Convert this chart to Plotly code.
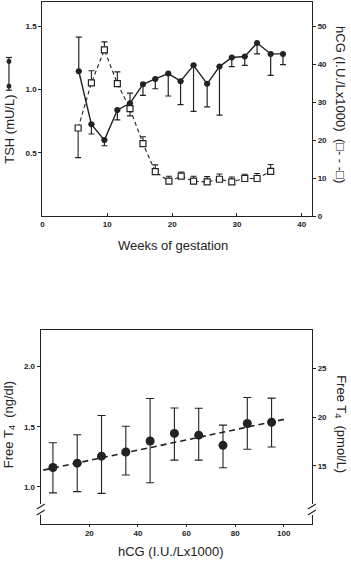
import plotly.graph_objects as go

W, H = 351, 567

# ---------------- Top panel data ----------------
tsh_weeks = [5.6, 7.55, 9.55, 11.55, 13.5, 15.5, 17.4, 19.4, 21.3, 23.3, 25.4, 27.3, 29.2, 31.2, 33.1, 35.2, 37.1]
tsh = [1.143, 0.724, 0.60, 0.838, 0.89, 1.04, 1.083, 1.125, 1.065, 1.19, 1.044, 1.18, 1.252, 1.26, 1.367, 1.28, 1.28]
tsh_err_up = [0.27, 0, 0, 0, 0.08, 0, 0, 0, 0, 0, 0, 0, 0, 0, 0, 0, 0]
tsh_err_down = [0, 0.076, 0.045, 0.078, 0, 0.087, 0.078, 0.177, 0.185, 0.364, 0.182, 0.383, 0.072, 0.07, 0.087, 0.17, 0.085]

hcg_weeks = [5.5, 7.55, 9.55, 11.55, 13.5, 15.5, 17.4, 19.5, 21.4, 23.3, 25.4, 27.3, 29.2, 31.2, 33.1, 35.2]
hcg = [23.2, 35.1, 43.8, 34.9, 28.3, 19.1, 11.7, 9.2, 10.5, 9.2, 9.0, 9.7, 9.0, 9.9, 9.9, 11.8]
hcg_err_up = [0, 3.2, 2.1, 3.1, 0, 1.8, 1.8, 1.3, 1.1, 1.3, 1.4, 1.4, 1.3, 1.1, 1.3, 1.8]
hcg_err_down = [7.8, 0, 0, 0, 1.9, 0, 0, 0, 0, 0, 0, 0, 0, 0, 0, 0]

week_ticks = [0, 10, 20, 30, 40]
tsh_ticks = [0.5, 1.0, 1.5]
hcg_ticks = [0, 10, 20, 30, 40, 50]

# ---------------- Bottom panel data ----------------
ft4_hcg = [5, 15, 25, 35, 45, 55, 65, 75, 85, 95]
ft4 = [1.162, 1.198, 1.256, 1.291, 1.382, 1.445, 1.431, 1.346, 1.528, 1.538]
ft4_hi = [1.368, 1.434, 1.594, 1.505, 1.736, 1.656, 1.654, 1.514, 1.744, 1.739]
ft4_lo = [0.951, 0.961, 0.947, 1.099, 1.035, 1.223, 1.223, 1.16, 1.313, 1.332]
trend_x = [1, 101]
trend_y = [1.14, 1.566]

hcg_x_ticks = [20, 40, 60, 80, 100]
ft4_ticks = [1.0, 1.5, 2.0]
pmol_ticks = [15, 20, 25]

INK = "#222222"
FONT = "Liberation Sans, Arial, sans-serif"


def px(x):
    return x / W


def py(y):
    return 1 - y / H


fig = go.Figure()

fig.add_trace(go.Scatter(
    x=tsh_weeks, y=tsh, mode="lines+markers", xaxis="x", yaxis="y",
    line=dict(color=INK, width=1.4),
    marker=dict(symbol="circle", size=6, color=INK),
    error_y=dict(type="data", symmetric=False, array=tsh_err_up, arrayminus=tsh_err_down,
                 color=INK, thickness=1.2, width=3),
    showlegend=False, hoverinfo="skip"))

fig.add_trace(go.Scatter(
    x=hcg_weeks, y=hcg, mode="lines+markers", xaxis="x", yaxis="y2",
    line=dict(color=INK, width=1.1, dash="4px,3px"),
    marker=dict(symbol="square", size=6, color="white", line=dict(width=1.2, color=INK)),
    error_y=dict(type="data", symmetric=False, array=hcg_err_up, arrayminus=hcg_err_down,
                 color=INK, thickness=1.1, width=3),
    showlegend=False, hoverinfo="skip"))

fig.add_trace(go.Scatter(
    x=trend_x, y=trend_y, mode="lines", xaxis="x2", yaxis="y3",
    line=dict(color=INK, width=1.6, dash="6px,4px"),
    showlegend=False, hoverinfo="skip"))

fig.add_trace(go.Scatter(
    x=ft4_hcg, y=ft4, mode="markers", xaxis="x2", yaxis="y3",
    marker=dict(symbol="circle", size=9, color=INK),
    error_y=dict(type="data", symmetric=False,
                 array=[h - v for h, v in zip(ft4_hi, ft4)],
                 arrayminus=[v - l for v, l in zip(ft4, ft4_lo)],
                 color=INK, thickness=1.1, width=4),
    showlegend=False, hoverinfo="skip"))

# empty trace registering the right-hand pmol/L axis
fig.add_trace(go.Scatter(x=[None], y=[None], xaxis="x2", yaxis="y4", showlegend=False, hoverinfo="skip"))

tickfont = dict(family=FONT, size=8, color=INK, weight="bold")
axis_common = dict(showline=True, linecolor=INK, linewidth=1.3, showgrid=False, zeroline=False,
                   tickcolor=INK, tickfont=tickfont, fixedrange=True)

top_x = [px(40.7), px(311.7)]
top_y = [py(218), py(2)]
bot_x = [px(39), px(311.7)]
bot_y = [py(528.3), py(332.7)]

fig.update_layout(
    width=W, height=H,
    margin=dict(l=0, r=0, t=0, b=0),
    paper_bgcolor="white", plot_bgcolor="white",
    font=dict(family=FONT, color=INK),
    xaxis=dict(domain=top_x, anchor="y", range=[0, 41.56], tickvals=week_ticks,
               ticks="inside", ticklen=3, mirror=True, **axis_common),
    yaxis=dict(domain=top_y, anchor="x", range=[0, 1.69], tickvals=tsh_ticks,
               ticktext=[f"{v:.1f}" for v in tsh_ticks],
               ticks="outside", ticklen=3, side="left", **axis_common),
    yaxis2=dict(anchor="x", overlaying="y", side="right", range=[0, 56.4], tickvals=hcg_ticks,
                ticks="outside", ticklen=3, **axis_common),
    xaxis2=dict(domain=bot_x, anchor="y3", range=[0, 111.6], tickvals=hcg_x_ticks,
                ticks="outside", ticklen=2, mirror=True, **axis_common),
    yaxis3=dict(domain=bot_y, anchor="x2", range=[0.695, 2.307], tickvals=ft4_ticks,
                ticktext=[f"{v:.1f}" for v in ft4_ticks],
                ticks="outside", ticklen=3, side="left", **axis_common),
    yaxis4=dict(anchor="x2", overlaying="y3", side="right", range=[9.07, 28.96], tickvals=pmol_ticks,
                ticks="outside", ticklen=3, **axis_common),
)

title_font = dict(family=FONT, size=13, color=INK)
ann = [
    dict(text="Weeks of gestation", x=px(172), y=py(248), xref="paper", yref="paper",
         showarrow=False, font=title_font, xanchor="center", yanchor="middle"),
    dict(text="TSH (mU/L)", x=px(8), y=py(130), xref="paper", yref="paper", textangle=-90,
         showarrow=False, font=title_font, xanchor="center", yanchor="middle"),
    dict(text="hCG (I.U./Lx1000)  (\u25a1- - -\u25a1)", x=px(341), y=py(105), xref="paper", yref="paper",
         textangle=90, showarrow=False, font=title_font, xanchor="center", yanchor="middle"),
    dict(text="hCG (I.U./Lx1000)", x=px(170), y=py(556), xref="paper", yref="paper",
         showarrow=False, font=title_font, xanchor="center", yanchor="middle"),
    dict(text="Free T<sub>4</sub>  (ng/dl)", x=px(7), y=py(428), xref="paper", yref="paper",
         textangle=-90, showarrow=False, font=title_font, xanchor="center", yanchor="middle"),
    dict(text="Free T<sub>4</sub>  (pmol/L)", x=px(341), y=py(428), xref="paper", yref="paper",
         textangle=90, showarrow=False, font=title_font, xanchor="center", yanchor="middle"),
]
fig.update_layout(annotations=ann)

shapes = []
# TSH legend symbol on the left (vertical bar with dots)
lx = 7
shapes.append(dict(type="line", xref="paper", yref="paper", x0=px(lx), x1=px(lx), y0=py(58), y1=py(91),
                   line=dict(color=INK, width=1.2)))
for yy in (58, 91):
    shapes.append(dict(type="line", xref="paper", yref="paper", x0=px(lx - 3), x1=px(lx + 3), y0=py(yy), y1=py(yy),
                       line=dict(color=INK, width=1.2)))
for yy in (62, 87):
    shapes.append(dict(type="circle", xref="paper", yref="paper", x0=px(lx - 2.5), x1=px(lx + 2.5),
                       y0=py(yy + 2.5), y1=py(yy - 2.5), fillcolor=INK, line=dict(color=INK, width=0)))

# axis breaks on the bottom panel
for ax_x in (39, 311.7):
    shapes.append(dict(type="rect", xref="paper", yref="paper", x0=px(ax_x - 2), x1=px(ax_x + 2),
                       y0=py(519.5), y1=py(508.5), fillcolor="white", line=dict(width=0)))
    for y_mid in (511, 517):
        shapes.append(dict(type="line", xref="paper", yref="paper", x0=px(ax_x - 4), x1=px(ax_x + 4),
                           y0=py(y_mid + 2.5), y1=py(y_mid - 2.5), line=dict(color=INK, width=1.1)))

fig.update_layout(shapes=shapes)

fig.write_html("out.html")
